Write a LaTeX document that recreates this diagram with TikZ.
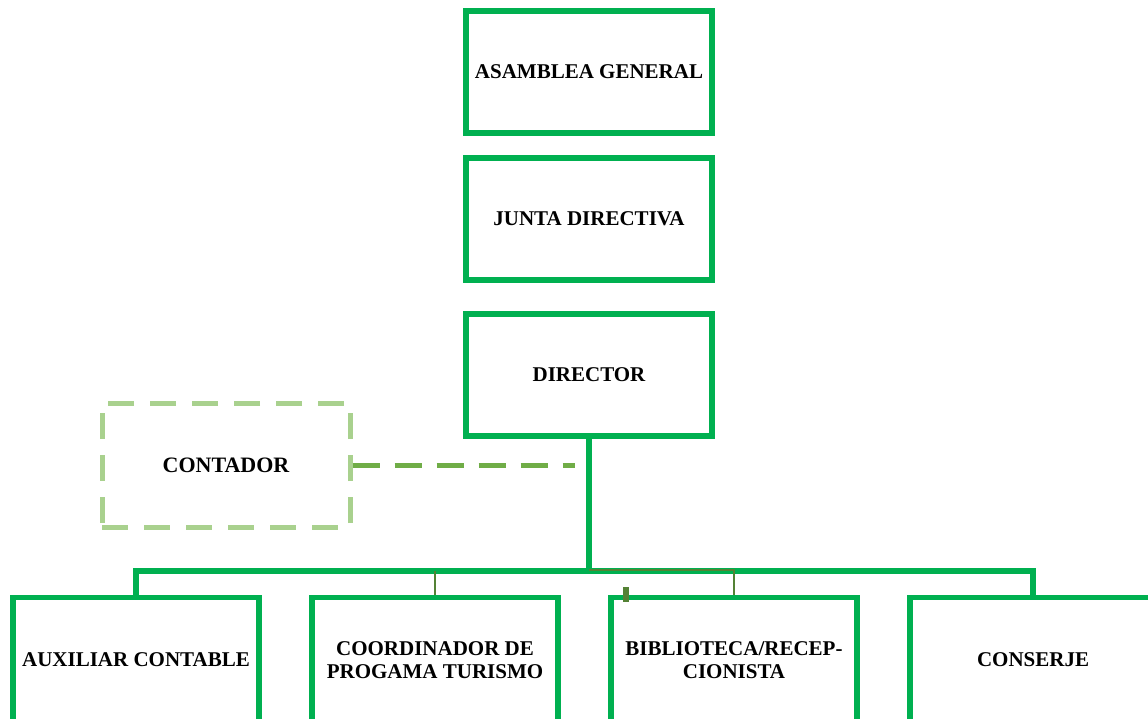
\documentclass[tikz,border=0pt]{standalone}
\usepackage{fontspec}
\setmainfont{Liberation Serif}
\definecolor{boxgreen}{RGB}{0,176,80}
\definecolor{lightgreen}{RGB}{169,209,142}
\definecolor{midgreen}{RGB}{112,173,71}
\definecolor{olive}{RGB}{84,130,53}
\tikzset{
  orgbox/.style={draw=boxgreen, line width=5.5pt, minimum width=246pt, minimum height=122pt,
    inner sep=0pt, align=center, font=\fontsize{21}{23}\selectfont\bfseries, text=black},
  dashbox/.style={draw=lightgreen, line width=5pt, minimum width=248pt, minimum height=124pt,
    dash pattern=on 26pt off 16pt, inner sep=0pt, align=center,
    font=\fontsize{22}{23}\selectfont\bfseries, text=black},
  conn/.style={draw=boxgreen, line width=5.5pt},
  thinconn/.style={draw=olive, line width=2pt},
  dashconn/.style={draw=midgreen, line width=5pt, dash pattern=on 27pt off 15pt},
  tick/.style={draw=olive, line width=6pt}
}
\begin{document}
\begin{tikzpicture}[x=1pt,y=-1pt]
\useasboundingbox (0,0) rectangle (1148,719);
\clip (0,0) rectangle (1148,719);
\node[orgbox] (asam) at (589,72) {ASAMBLEA GENERAL};
\node[orgbox] (junta) at (589,219) {JUNTA DIRECTIVA};
\node[orgbox] (dir) at (589,375) {DIRECTOR};
\node[dashbox] (cont) at (226,465) {CONTADOR};
\node[orgbox, minimum height=125pt] (aux) at (136,660) {AUXILIAR CONTABLE};
\node[orgbox, minimum height=125pt] (coord) at (435,660) {COORDINADOR DE\\PROGAMA TURISMO};
\node[orgbox, minimum height=125pt] (bib) at (734,660) {BIBLIOTECA/RECEP-\\CIONISTA};
\node[orgbox, minimum height=125pt] (cons) at (1033,660) {CONSERJE};
\coordinate (bus) at (589,571);
\coordinate (contend) at (575,465);
\draw[conn] (dir.south) -- (dir.south |- bus);
\draw[conn] (aux.north) -- (aux.north |- bus) -- (cons.north |- bus) -- (cons.north);
\draw[thinconn] (coord.north) -- (coord.north |- bus);
\draw[thinconn] ([yshift=1pt]bus) -- ([yshift=1pt]bus -| bib.north) -- (bib.north);
\draw[dashconn] (cont.east) -- (contend);
\draw[tick] ([xshift=18pt,yshift=-7pt]bib.north west) -- ([xshift=18pt,yshift=8pt]bib.north west);
\end{tikzpicture}
\end{document}
